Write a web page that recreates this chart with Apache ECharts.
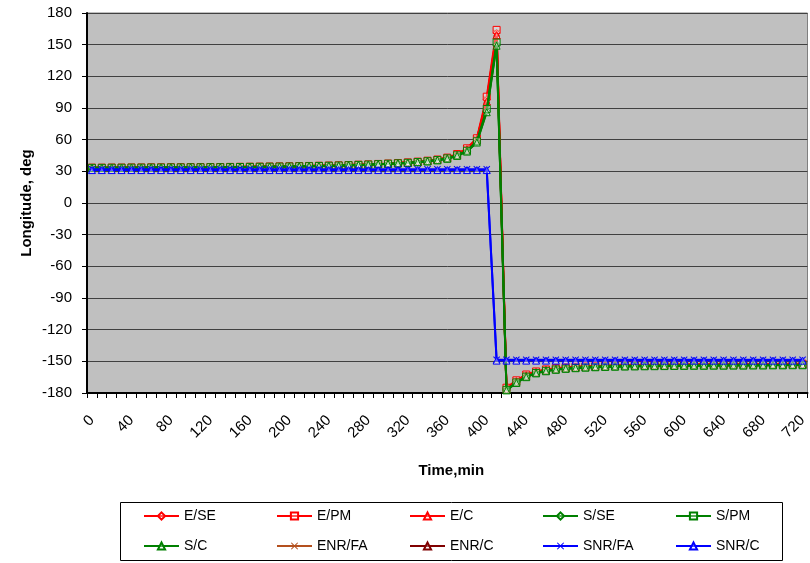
<!DOCTYPE html>
<html>
<head>
<meta charset="utf-8">
<script src="https://cdn.jsdelivr.net/npm/echarts@6/dist/echarts.min.js"></script>
<style>html,body{margin:0;padding:0;background:#fff;}#c{width:810px;height:563px;}</style>
</head>
<body>
<div id="c"></div>
<script>
// ---- DATA ----
const timeCategories = ['0','10','20','30','40','50','60','70','80','90','100','110','120','130','140','150','160','170','180','190','200','210','220','230','240','250','260','270','280','290','300','310','320','330','340','350','360','370','380','390','400','410','420','430','440','450','460','470','480','490','500','510','520','530','540','550','560','570','580','590','600','610','620','630','640','650','660','670','680','690','700','710','720'];

const E_SE = [33.4,33.4,33.5,33.5,33.6,33.6,33.7,33.7,33.8,33.8,33.9,
  33.9,34.0,34.0,34.1,34.2,34.3,34.4,34.5,34.6,34.7,
  34.9,35.0,35.2,35.4,35.6,35.9,36.2,36.5,36.9,37.3,
  37.8,38.4,39.1,40.0,41.1,42.8,46.0,51.2,60.5,98.0,
  161,
  -176,-168.5,-163,-160,-158,-156.8,-156,-155.4,-154.9,-154.6,-154.3,-154.1,-153.9,-153.7,-153.6,-153.5,-153.4,-153.3,-153.2,-153.1,-153.0,-153.0,-152.9,-152.9,-152.8,-152.8,-152.7,-152.7,-152.6,-152.6,-152.5];
const E_PM = [33.5,33.5,33.6,33.6,33.7,33.7,33.8,33.8,33.9,33.9,34.0,
  34.0,34.1,34.1,34.2,34.3,34.4,34.5,34.6,34.7,34.8,
  35.0,35.1,35.3,35.5,35.7,36.0,36.3,36.6,37.0,37.4,
  37.9,38.5,39.2,40.1,41.2,43.0,46.4,51.8,61.3,100.7,
  164,
  -175,-168,-162.5,-159.6,-157.7,-156.5,-155.7,-155.1,-154.7,-154.4,-154.1,-153.9,-153.7,-153.5,-153.4,-153.3,-153.2,-153.1,-153.0,-152.9,-152.8,-152.8,-152.7,-152.7,-152.6,-152.6,-152.5,-152.5,-152.4,-152.4,-152.3];
const E_C = [33.4,33.4,33.5,33.5,33.6,33.6,33.7,33.7,33.8,33.8,33.9,
  33.9,34.0,34.0,34.1,34.2,34.3,34.4,34.5,34.6,34.7,
  34.9,35.0,35.2,35.4,35.6,35.9,36.2,36.5,36.9,37.3,
  37.8,38.3,39.0,39.9,41.0,42.6,45.7,50.8,59.8,96.0,
  159,
  -176.5,-169,-163.5,-160.3,-158.2,-157,-156.2,-155.6,-155.1,-154.8,-154.5,-154.3,-154.1,-153.9,-153.8,-153.7,-153.6,-153.5,-153.4,-153.3,-153.2,-153.2,-153.1,-153.1,-153.0,-153.0,-152.9,-152.9,-152.8,-152.8,-152.7];
const S_SE = [33.3,33.3,33.4,33.4,33.5,33.5,33.6,33.6,33.7,33.7,33.8,
  33.8,33.9,33.9,34.0,34.1,34.2,34.3,34.4,34.5,34.6,
  34.7,34.8,35.0,35.2,35.4,35.7,36.0,36.3,36.7,37.1,
  37.5,38.0,38.7,39.5,40.5,42.0,44.8,49.0,57.8,87.0,
  150,
  -177,-170,-164.5,-161,-159,-157.7,-156.8,-156.2,-155.7,-155.3,-155.0,-154.8,-154.6,-154.5,-154.4,-154.3,-154.2,-154.1,-154.0,-153.9,-153.9,-153.8,-153.8,-153.7,-153.7,-153.6,-153.6,-153.5,-153.5,-153.4,-153.4];
const S_PM = [33.3,33.3,33.4,33.4,33.5,33.5,33.6,33.6,33.7,33.7,33.8,
  33.8,33.9,33.9,34.0,34.1,34.2,34.3,34.4,34.5,34.6,
  34.8,34.9,35.1,35.3,35.5,35.8,36.1,36.4,36.8,37.2,
  37.6,38.1,38.8,39.6,40.7,42.3,45.2,49.5,58.5,89.0,
  152,
  -177,-170,-164.5,-161,-159,-157.7,-156.8,-156.2,-155.7,-155.3,-155.0,-154.8,-154.6,-154.5,-154.4,-154.3,-154.2,-154.1,-154.0,-153.9,-153.9,-153.8,-153.8,-153.7,-153.7,-153.6,-153.6,-153.5,-153.5,-153.4,-153.4];
const S_C = [33.2,33.2,33.3,33.3,33.4,33.4,33.5,33.5,33.6,33.6,33.7,
  33.7,33.8,33.8,33.9,34.0,34.1,34.2,34.3,34.4,34.5,
  34.6,34.7,34.9,35.1,35.3,35.6,35.9,36.2,36.6,37.0,
  37.4,37.9,38.6,39.4,40.4,41.9,44.6,48.7,57.3,86.0,
  149,
  -177.5,-170.5,-165,-161.4,-159.4,-158,-157.1,-156.5,-156.0,-155.6,-155.3,-155.1,-154.9,-154.8,-154.7,-154.6,-154.5,-154.4,-154.3,-154.2,-154.2,-154.1,-154.1,-154.0,-154.0,-153.9,-153.9,-153.8,-153.8,-153.7,-153.7];
const ENR_FA = [33.4,33.4,33.5,33.5,33.6,33.6,33.7,33.7,33.8,33.8,33.9,
  33.9,34.0,34.0,34.1,34.2,34.3,34.4,34.5,34.6,34.7,
  34.9,35.0,35.2,35.4,35.6,35.9,36.2,36.5,36.9,37.3,
  37.8,38.4,39.1,40.0,41.1,42.8,46.0,51.2,60.5,98.0,
  161,
  -176,-168.5,-163,-160,-158,-156.8,-156,-155.4,-154.9,-154.6,-154.3,-154.1,-153.9,-153.7,-153.6,-153.5,-153.4,-153.3,-153.2,-153.1,-153.0,-153.0,-152.9,-152.9,-152.8,-152.8,-152.7,-152.7,-152.6,-152.6,-152.5];
const ENR_C = [33.4,33.4,33.5,33.5,33.6,33.6,33.7,33.7,33.8,33.8,33.9,
  33.9,34.0,34.0,34.1,34.2,34.3,34.4,34.5,34.6,34.7,
  34.9,35.0,35.2,35.4,35.6,35.9,36.2,36.5,36.9,37.3,
  37.8,38.3,39.0,39.9,41.0,42.6,45.7,50.8,59.8,96.0,
  159,
  -176.5,-169,-163.5,-160.3,-158.2,-157,-156.2,-155.6,-155.1,-154.8,-154.5,-154.3,-154.1,-153.9,-153.8,-153.7,-153.6,-153.5,-153.4,-153.3,-153.2,-153.2,-153.1,-153.1,-153.0,-153.0,-152.9,-152.9,-152.8,-152.8,-152.7];
const SNR_FA = [32.0,32.0,32.0,32.0,32.0,32.0,32.0,32.0,32.0,32.0,32.0,
  32.0,32.0,32.0,32.0,32.0,32.0,32.0,32.0,32.0,32.0,
  32.0,32.0,32.0,32.0,32.0,32.0,32.0,32.0,32.0,32.0,
  32.0,32.0,32.0,32.0,32.0,32.0,32.0,32.0,32.0,32.0,
  -148.5,
  -148.5,-148.5,-148.5,-148.5,-148.5,-148.5,-148.5,-148.5,-148.5,-148.5,-148.5,-148.5,-148.5,-148.5,-148.5,-148.5,-148.5,-148.5,-148.5,-148.5,-148.5,-148.5,-148.5,-148.5,-148.5,-148.5,-148.5,-148.5,-148.5,-148.5,-148.5];
const SNR_C = [31.2,31.2,31.2,31.2,31.2,31.2,31.2,31.2,31.2,31.2,31.2,
  31.2,31.2,31.2,31.2,31.2,31.2,31.2,31.2,31.2,31.2,
  31.2,31.2,31.2,31.2,31.2,31.2,31.2,31.2,31.2,31.2,
  31.2,31.2,31.2,31.2,31.2,31.2,31.2,31.2,31.2,31.2,
  -149.3,
  -149.3,-149.3,-149.3,-149.3,-149.3,-149.3,-149.3,-149.3,-149.3,-149.3,-149.3,-149.3,-149.3,-149.3,-149.3,-149.3,-149.3,-149.3,-149.3,-149.3,-149.3,-149.3,-149.3,-149.3,-149.3,-149.3,-149.3,-149.3,-149.3,-149.3,-149.3];

const yTicks = {min: -180, max: 180, step: 30};
const seriesNames = ['E/SE','E/PM','E/C','S/SE','S/PM','S/C','ENR/FA','ENR/C','SNR/FA','SNR/C'];
const seriesValues = [E_SE, E_PM, E_C, S_SE, S_PM, S_C, ENR_FA, ENR_C, SNR_FA, SNR_C];

// ---- STYLE ----
const FONT = 'Liberation Sans, Arial, sans-serif';
const XPATH = 'path://M0,1L1,0L5,4L9,0L10,1L6,5L10,9L9,10L5,6L1,10L0,9L4,5Z';
const styles = [
  {color:'#FF0000', symbol:'diamond', z:3},
  {color:'#FF0000', symbol:'rect', z:3},
  {color:'#FF0000', symbol:'triangle', z:3},
  {color:'#008000', symbol:'diamond', z:4},
  {color:'#008000', symbol:'rect', z:4},
  {color:'#008000', symbol:'triangle', z:4},
  {color:'#B4501E', symbol:XPATH, z:2},
  {color:'#800000', symbol:'triangle', z:2},
  {color:'#0000FF', symbol:XPATH, z:5},
  {color:'#0000FF', symbol:'triangle', z:5}
];

const series = seriesNames.map((name, i) => {
  const st = styles[i];
  const isX = st.symbol === XPATH;
  return {
    name: name,
    type: 'line',
    data: seriesValues[i],
    z: st.z,
    symbol: st.symbol,
    symbolSize: 7,
    showAllSymbol: true,
    lineStyle: {color: st.color, width: 2},
    itemStyle: isX ? {color: st.color, borderWidth: 0}
                   : {color: 'rgba(255,255,255,0.35)', borderColor: st.color, borderWidth: 1},
    emphasis: {disabled: true},
    animation: false
  };
});

const colLeft = [143, 276, 409, 542, 675];
const rowCenter = [516, 546];
const legends = seriesNames.map((name, i) => ({
  data: [name],
  left: colLeft[i % 5],
  top: rowCenter[Math.floor(i / 5)] - 7,
  orient: 'horizontal',
  padding: 0,
  itemWidth: 35,
  itemHeight: 9,
  selectedMode: false,
  z: 10,
  textStyle: {fontFamily: FONT, fontSize: 14, color: '#000'}
}));

const chart = echarts.init(document.getElementById('c'), null, {renderer: 'canvas'});
chart.setOption({
  backgroundColor: '#FFFFFF',
  animation: false,
  textStyle: {fontFamily: FONT},
  grid: {left: 87, top: 13, width: 721, height: 380, show: true,
         backgroundColor: '#C0C0C0', borderColor: '#808080', borderWidth: 1, containLabel: false},
  xAxis: {
    type: 'category',
    data: timeCategories,
    boundaryGap: true,
    name: 'Time,min',
    nameLocation: 'middle',
    nameGap: 70,
    nameMoveOverlap: false,
    nameTextStyle: {fontFamily: FONT, fontWeight: 'bold', fontSize: 15, color: '#000', padding: [0, 0, 0, 8]},
    axisLine: {onZero: false, lineStyle: {color: '#000', width: 2}},
    axisTick: {show: true, interval: 0, length: 5, lineStyle: {color: '#000', width: 1}},
    axisLabel: {interval: 3, rotate: 45, margin: 25, fontFamily: FONT, fontSize: 15, color: '#000'},
    splitLine: {show: false}
  },
  yAxis: {
    type: 'value',
    min: yTicks.min, max: yTicks.max, interval: yTicks.step,
    name: 'Longitude, deg',
    nameLocation: 'middle',
    nameRotate: 90,
    nameGap: 53,
    nameMoveOverlap: false,
    nameTextStyle: {fontFamily: FONT, fontWeight: 'bold', fontSize: 15, color: '#000'},
    axisLine: {show: true, lineStyle: {color: '#000', width: 2}},
    axisTick: {show: true, length: 5, lineStyle: {color: '#000', width: 1}},
    axisLabel: {margin: 15, fontFamily: FONT, fontSize: 15, color: '#000'},
    splitLine: {show: true, lineStyle: {color: '#404040', width: 1}}
  },
  legend: legends,
  graphic: [{
    type: 'rect', z: 1,
    shape: {x: 120.5, y: 502.5, width: 662, height: 58},
    style: {fill: '#FFFFFF', stroke: '#000', lineWidth: 1}
  }],
  series: series
});
</script>
</body>
</html>
